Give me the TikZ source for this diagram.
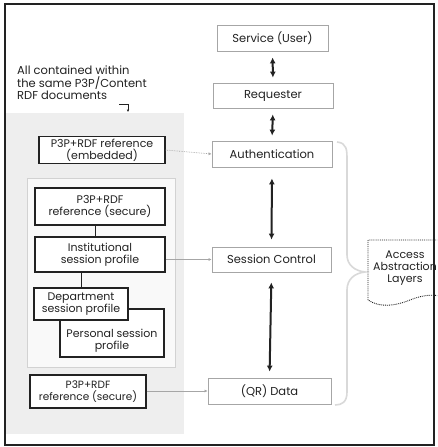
\documentclass[tikz,border=0pt]{standalone}
\usepackage{fontspec}
\setmainfont{Poppins}
\usetikzlibrary{arrows.meta}
\definecolor{ink}{HTML}{222222}
\begin{document}
\begin{tikzpicture}[x=1pt,y=-1pt,
  every node/.style={font=\fontsize{11}{12}\selectfont, text=ink},
  leftbox/.style={draw=ink, line width=1.1pt, fill=white, align=center, inner sep=0.5pt},
  rightbox/.style={draw=gray!70, line width=0.8pt, fill=white, align=center, inner sep=1pt, font=\fontsize{11.5}{12}\selectfont},
  dbl/.style={{Latex[length=6pt,width=6pt]}-{Latex[length=6pt,width=6pt]}, line width=2pt, ink},
  link/.style={-{Latex[length=3pt,width=3pt]}, gray!70, line width=0.7pt},
  tie/.style={ink, line width=0.9pt}
]
\useasboundingbox (0,0) rectangle (437,447);
\clip (0,0) rectangle (437,447);
\fill[white] (0,0) rectangle (437,447);
% gray panel
\fill[gray!13] (6,113) rectangle (184,434);
\draw[gray!35, line width=0.8pt, fill=gray!5] (27,178) rectangle (175,367);
% frame
\draw[ink, line width=1.4pt] (5,4) rectangle (434,445);

% label
\node[anchor=north west, align=left, inner sep=0pt, font=\fontsize{11.5}{12.5}\selectfont] (lbl) at (17,66) {All contained within\\the same P3P/Content\\RDF documents};
\coordinate (tk1) at (119,104);
\coordinate (tk2) at (128,104);
\coordinate (tk3) at (128,112);
\draw[ink, line width=0.7pt, -{Latex[length=2.5pt,width=2.5pt]}] (tk1) -- (tk2) -- (tk3);

% right column
\node[rightbox, minimum width=111pt, minimum height=26pt] (svc) at (272.5,38) {Service (User)};
\node[rightbox, minimum width=120pt, minimum height=25pt] (req) at (273,95.5) {Requester};
\node[rightbox, minimum width=120pt, minimum height=26pt] (auth) at (272,154) {Authentication};
\node[rightbox, minimum width=119pt, minimum height=25pt] (sess) at (271.5,259.5) {Session Control};
\node[rightbox, minimum width=123pt, minimum height=26pt] (data) at (269.5,391) {(QR) Data};

% left boxes
\node[leftbox, minimum width=126pt, minimum height=27pt] (emb) at (102,150) {P3P+RDF reference\\(embedded)};
\node[leftbox, minimum width=130pt, minimum height=37pt] (sec1) at (100,206.5) {P3P+RDF\\reference (secure)};
\node[leftbox, minimum width=130pt, minimum height=35pt] (inst) at (100,254.5) {Institutional\\session profile};
\node[leftbox, minimum width=104pt, minimum height=48pt] (pers) at (112,333) {};
\node[align=center, inner sep=0pt] (perstext) at (112,341) {Personal session\\profile};
\node[leftbox, minimum width=94pt, minimum height=32pt] (dept) at (81,304) {Department\\session profile};
\node[leftbox, minimum width=116pt, minimum height=33pt, font=\fontsize{10.5}{12}\selectfont] (sec2) at (88,391.5) {P3P+RDF\\reference (secure)};

% ties inside panel
\draw[tie] (sec1.south -| 95,0) -- (inst.north -| 95,0);
\draw[tie] (dept.north |- inst.south) -- (dept.north);

% left to right links
\draw[link, densely dotted] (emb.east) -- (auth.west);
\draw[link] (inst.east |- sess.west) -- (sess.west);
\draw[link] (sec2.east |- data.west) -- (data.west);

% double arrows
\draw[dbl, shorten <=6pt, shorten >=5pt] (svc.south) -- (req.north);
\draw[dbl, shorten <=6pt, shorten >=5pt] (req.south) -- (auth.north);
\draw[dbl, shorten <=11pt, shorten >=7pt] (auth.south) -- (sess.north);
\draw[dbl, shorten <=10pt, shorten >=6pt] (sess.south) -- (data.north);

% brace
\coordinate (btop) at (337,142);
\coordinate (btip) at (365,272);
\coordinate (bbot) at (335,405);
\draw[gray!30, line width=1.6pt] (btop) .. controls (347,143) and (347,150) .. (347,160)
  -- (347,255) .. controls (347,265) and (355,271) .. (btip)
  .. controls (355,273) and (347,279) .. (347,290)
  -- (347,392) .. controls (347,402) and (342,405) .. (bbot);

% access abstraction layers
\draw[ink, line width=0.9pt, densely dotted] (440,240) -- (368,240) -- (368,300)
  .. controls (380,308) and (395,306) .. (410,300) .. controls (420,296) and (430,294) .. (440,296);
\node[align=center, inner sep=0pt] (aal) at (405,268) {Access\\Abstraction\\Layers};
\end{tikzpicture}
\end{document}
